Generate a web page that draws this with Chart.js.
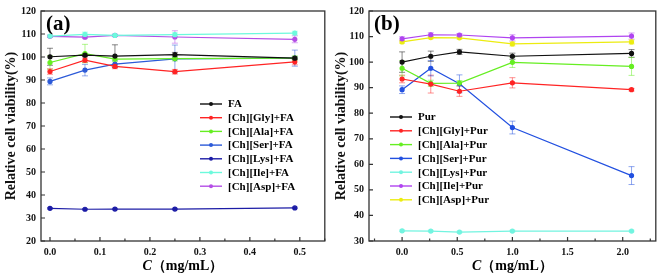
<!DOCTYPE html>
<html><head><meta charset="utf-8">
<script src="https://cdn.jsdelivr.net/npm/chart.js@4.4.1/dist/chart.umd.min.js"></script>
<style>
html,body{margin:0;padding:0;background:#fff;overflow:hidden}
#wrap{position:relative;width:661px;height:280px}
canvas{position:absolute;top:0}
#ca{left:0}#cb{left:330px}
</style></head><body>
<div id="wrap"><canvas id="ca" width="330" height="280"></canvas><canvas id="cb" width="331" height="280"></canvas></div>
<script>
// ---------- data: panel (a) ----------
const concA = [0, 0.07, 0.13, 0.25, 0.49];
const namesA = ['FA','[Ch][Gly]+FA','[Ch][Ala]+FA','[Ch][Ser]+FA','[Ch][Lys]+FA','[Ch][Ile]+FA','[Ch][Asp]+FA'];
const faA  = [100.1, 100.8, 100.4, 101.0, 99.5];
const glyA = [93.7, 98.6, 95.9, 93.6, 97.9];
const alaA = [97.6, 101.5, 99.1, 99.3, 99.5];
const serA = [89.4, 94.3, 96.9, 99.2, 99.5];
const lysA = [34.2, 33.8, 33.9, 33.9, 34.4];
const ileA = [109.1, 109.8, 109.4, 109.7, 110.4];
const aspA = [109.0, 108.6, 109.4, 108.7, 107.7];
const faErrA  = [3.7, 0.6, 4.9, 1.0, 0.6];
const glyErrA = [1.2, 1.0, 1.0, 1.0, 1.3];
const alaErrA = [3.0, 4.0, 1.0, 1.0, 1.0];
const serErrA = [1.5, 2.5, 1.5, 6.0, 3.5];
const lysErrA = [0.3, 0.3, 0.3, 0.3, 0.3];
const ileErrA = [0.5, 1.0, 0.5, 0.8, 0.8];
const aspErrA = [0.5, 0.6, 0.5, 2.7, 1.5];

// ---------- data: panel (b) ----------
const concB = [0, 0.26, 0.52, 1.0, 2.08];
const namesB = ['Pur','[Ch][Gly]+Pur','[Ch][Ala]+Pur','[Ch][Ser]+Pur','[Ch][Lys]+Pur','[Ch][Ile]+Pur','[Ch][Asp]+Pur'];
const purB = [100.0, 102.3, 104.0, 102.3, 103.4];
const glyB = [93.4, 91.4, 88.6, 91.9, 89.2];
const alaB = [97.6, 91.7, 91.8, 99.9, 98.3];
const serB = [89.2, 97.6, 91.5, 74.4, 55.6];
const lysB = [34.0, 33.9, 33.5, 33.9, 33.9];
const ileB = [109.1, 110.7, 110.6, 109.5, 110.2];
const aspB = [107.9, 109.6, 109.5, 107.1, 107.9];
const purErrB = [4.0, 2.0, 1.0, 1.2, 1.5];
const glyErrB = [1.5, 3.5, 2.0, 2.0, 0.5];
const alaErrB = [3.0, 1.2, 1.0, 2.0, 3.5];
const serErrB = [1.5, 3.0, 3.5, 2.5, 3.5];
const lysErrB = [0.3, 0.3, 0.3, 0.3, 0.3];
const ileErrB = [0.8, 0.8, 0.6, 1.2, 1.2];
const aspErrB = [0.5, 0.5, 0.5, 0.8, 0.8];

// ---------- tick labels ----------
const yTicksA = [20, 30, 40, 50, 60, 70, 80, 90, 100, 110, 120];
const yTicksB = [30, 40, 50, 60, 70, 80, 90, 100, 110, 120];
const yTitle = 'Relative cell viability(%)';

const FONT = '"Liberation Serif", "Times New Roman", serif';
const colorsA = ['#111111', '#ff2424', '#66ee22', '#2c5ad8', '#1c1ca6', '#6cfadc', '#b44ee6'];
const colorsB = ['#111111', '#ff2424', '#66ee22', '#2250e0', '#72f4e0', '#b044f0', '#ecec10'];

function mkSets(conc, names, series, errs, colors) {
  return series.map((arr, k) => ({
    label: names[k],
    data: conc.map((x, i) => ({ x: x, y: arr[i] })),
    err: errs[k],
    borderColor: colors[k],
    backgroundColor: colors[k],
    borderWidth: 1.2,
    pointRadius: 2,
    pointStyle: 'circle',
    tension: 0
  }));
}

const deco = {
  id: 'deco',
  beforeDatasetsDraw(chart) {
    const ctx = chart.ctx, xs = chart.scales.x, ys = chart.scales.y;
    ctx.save();
    ctx.globalAlpha = 0.5;
    ctx.lineWidth = 1;
    chart.data.datasets.forEach(ds => {
      ctx.strokeStyle = ds.borderColor;
      ds.data.forEach((p, i) => {
        const e = ds.err[i];
        const px = xs.getPixelForValue(p.x);
        const y1 = ys.getPixelForValue(p.y + e), y2 = ys.getPixelForValue(p.y - e);
        ctx.beginPath();
        ctx.moveTo(px, y1); ctx.lineTo(px, y2);
        ctx.moveTo(px - 3, y1); ctx.lineTo(px + 3, y1);
        ctx.moveTo(px - 3, y2); ctx.lineTo(px + 3, y2);
        ctx.stroke();
      });
    });
    ctx.restore();
  },
  afterDraw(chart, args, o) {
    const ctx = chart.ctx, a = chart.chartArea, xs = chart.scales.x, ys = chart.scales.y;
    ctx.save();
    // frame
    ctx.strokeStyle = '#333';
    ctx.lineWidth = 1.3;
    ctx.strokeRect(a.left, a.top, a.right - a.left, a.bottom - a.top);
    // inward ticks
    ctx.lineWidth = 1.2;
    ctx.beginPath();
    xs.ticks.forEach(t => {
      const px = xs.getPixelForValue(t.value);
      ctx.moveTo(px, a.bottom); ctx.lineTo(px, a.bottom - 4);
    });
    const m = o.minor;
    for (let v = Math.ceil(xs.min / m) * m; v <= xs.max + 1e-9; v += m) {
      const q = Math.round(v / m);
      if (q % 2 === 0) continue;
      const px = xs.getPixelForValue(v);
      ctx.moveTo(px, a.bottom); ctx.lineTo(px, a.bottom - 2.5);
    }
    ys.ticks.forEach(t => {
      const py = ys.getPixelForValue(t.value);
      ctx.moveTo(a.left, py); ctx.lineTo(a.left + 4, py);
    });
    ctx.stroke();
    // panel label
    ctx.fillStyle = '#000';
    ctx.font = 'bold 21px ' + FONT;
    ctx.textBaseline = 'alphabetic';
    ctx.textAlign = 'left';
    ctx.fillText(o.label, a.left + 5, a.top + 19);
    // x title with italic C
    ctx.textBaseline = 'middle';
    ctx.font = 'italic bold 14px ' + FONT;
    const c = 'C';
    ctx.font = 'bold 14px ' + FONT;
    const rest = '（mg/mL）';
    const wRest = ctx.measureText(rest).width;
    ctx.font = 'italic bold 14px ' + FONT;
    const wC = ctx.measureText(c).width;
    let sx = (a.left + a.right) / 2 - (wC + wRest) / 2;
    ctx.fillText(c, sx, o.xTitleY);
    ctx.font = 'bold 14px ' + FONT;
    ctx.fillText(rest, sx + wC, o.xTitleY);
    // legend
    ctx.font = 'bold 11px ' + FONT;
    chart.data.datasets.forEach((ds, k) => {
      const y = o.legY + k * o.legGap;
      ctx.strokeStyle = ds.borderColor;
      ctx.fillStyle = ds.borderColor;
      ctx.lineWidth = 1.4;
      ctx.beginPath(); ctx.moveTo(o.legX, y); ctx.lineTo(o.legX + 22, y); ctx.stroke();
      ctx.beginPath(); ctx.arc(o.legX + 11, y, 2, 0, Math.PI * 2); ctx.fill();
      ctx.fillStyle = '#000';
      ctx.fillText(ds.label, o.legX + 28, y + 0.5);
    });
    ctx.restore();
  }
};

function mkOptions(xmin, xmax, xstep, ymin, ymax, yTicks, yWidth, padTop, padRight, deco) {
  return {
    responsive: false,
    animation: false,
    devicePixelRatio: 1,
    layout: { padding: { left: 0, top: padTop, right: padRight, bottom: 0 } },
    plugins: { legend: { display: false }, tooltip: { enabled: false }, deco: deco },
    scales: {
      x: {
        type: 'linear', min: xmin, max: xmax,
        grid: { display: false, drawTicks: false },
        border: { display: false },
        ticks: {
          stepSize: xstep, includeBounds: false, padding: 5,
          color: '#111', font: { family: FONT, size: 10, weight: 'bold' },
          callback: v => Number(v).toFixed(1)
        },
        afterFit: s => { s.height = 39; }
      },
      y: {
        min: ymin, max: ymax,
        grid: { display: false, drawTicks: false },
        border: { display: false },
        afterBuildTicks: s => { s.ticks = yTicks.map(v => ({ value: v })); },
        ticks: { padding: 5, color: '#111', font: { family: FONT, size: 10, weight: 'bold' } },
        title: { display: true, text: yTitle, color: '#111', padding: { top: 3, bottom: 0 },
                 font: { family: FONT, size: 14, weight: 'bold' } },
        afterFit: s => { s.width = yWidth; }
      }
    }
  };
}

Chart.register(deco);

new Chart(document.getElementById('ca'), {
  type: 'line',
  data: { datasets: mkSets(concA, namesA, [faA, glyA, alaA, serA, lysA, ileA, aspA],
    [faErrA, glyErrA, alaErrA, serErrA, lysErrA, ileErrA, aspErrA], colorsA) },
  options: mkOptions(-0.018, 0.55, 0.1, 20, 120, yTicksA, 41, 10, 2,
    { label: '(a)', minor: 0.05, legX: 200, legY: 104, legGap: 13.7, xTitleY: 266 })
});

new Chart(document.getElementById('cb'), {
  type: 'line',
  data: { datasets: mkSets(concB, namesB, [purB, glyB, alaB, serB, lysB, ileB, aspB],
    [purErrB, glyErrB, alaErrB, serErrB, lysErrB, ileErrB, aspErrB], colorsB) },
  options: mkOptions(-0.3, 2.3, 0.5, 30, 120, yTicksB, 39, 8, 2,
    { label: '(b)', minor: 0.25, legX: 60, legY: 117, legGap: 13.8, xTitleY: 266 })
});
</script>
</body></html>
